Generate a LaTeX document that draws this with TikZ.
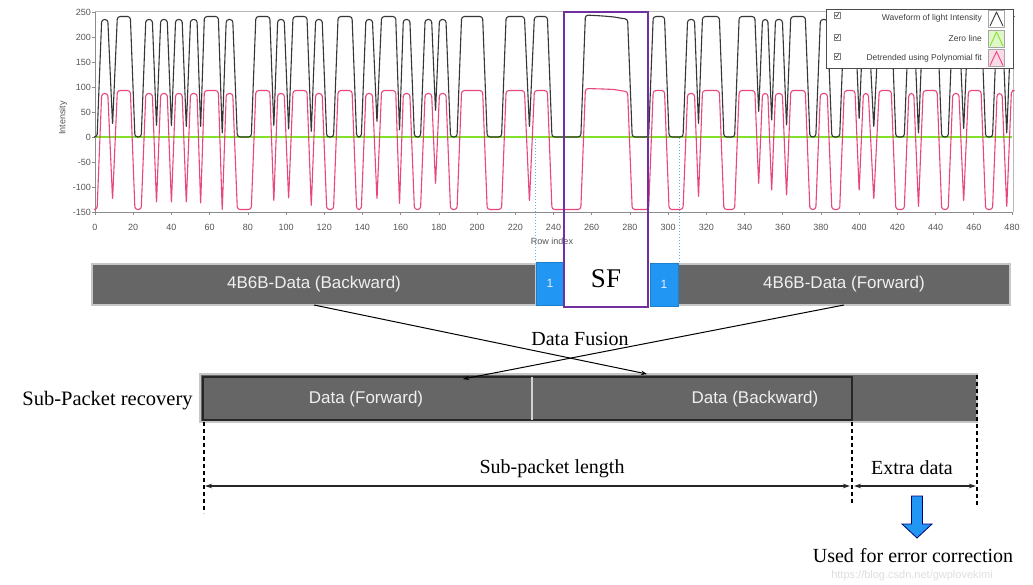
\documentclass[tikz,border=0pt]{standalone}
\usepackage{fontspec}
\setmainfont{Liberation Serif}
\setsansfont{Liberation Sans}
\usetikzlibrary{arrows.meta}
\definecolor{wblack}{RGB}{55,55,55}
\definecolor{wred}{RGB}{232,70,128}
\definecolor{wgreen}{RGB}{130,225,40}
\definecolor{barg}{RGB}{102,102,102}
\definecolor{barb}{RGB}{33,150,243}
\definecolor{sfp}{RGB}{112,48,160}
\definecolor{axg}{RGB}{140,140,140}
\definecolor{lblg}{RGB}{85,85,85}
\def\wavelist{1.1/0/-145, 3.5/235/87, 6.7/235/87, 9.2/24/-126,
11.7/241/93, 18.5/241/93, 20.9/0/-145, 24.2/0/-145,
26.6/235/87, 30.0/235/87, 32.2/20/-133,
34.4/235/87, 37.8/235/87, 40.0/20/-133,
42.2/235/87, 45.6/235/87, 47.8/18/-133,
50.0/235/87, 53.4/235/87, 55.3/18/-135,
57.25/241/93, 64.55/241/93, 66.6/5/-148,
68.7/235/87, 72.1/235/87, 74.5/0/-145, 81.8/0/-145,
84.2/241/93, 91.5/241/93, 93.6/20/-130,
95.65/235/87, 99.05/235/87, 101.35/13/-125,
103.65/241/93, 110.95/241/93, 113.2/8/-140,
115.5/235/87, 118.9/235/87, 121.3/0/-145, 124.85/0/-145,
127.25/241/93, 134.55/241/93, 136.95/0/-145, 139.4/0/-145,
141.8/235/87, 145.2/235/87, 147.6/28/-126,
150.0/241/93, 157.4/241/93, 159.4/11/-136,
161.4/235/87, 164.8/235/87, 167.2/0/-145, 170.4/0/-145,
172.8/235/87, 176.2/235/87, 178.25/50/-96,
180.3/235/87, 183.7/235/87, 186.1/0/-145, 189.5/0/-145,
191.9/241/93, 202.9/241/93, 205.3/0/-145, 212.8/0/-145,
215.2/241/93, 224.8/241/93, 227.4/18/-130,
230.0/241/93, 236.8/241/93, 239.2/0/-145, 254.3/0/-145,
256.7/244/97, 266/242/96, 272/240/95, 276/237/92, 278.8/236/91, 281.2/0/-145, 289.8/0/-145,
292.2/241/93, 298.1/241/93, 300.5/0/-145, 307.8/0/-145,
310.2/235/87, 313.8/235/87, 315.9/24/-122,
318.0/241/93, 326.8/241/93, 329.2/0/-145, 334.8/0/-145,
337.2/241/93, 345.4/241/93, 347.4/48/-96,
349.4/235/87, 352.2/235/87, 354.2/31/-109,
356.2/235/87, 359.8/235/87, 362/21/-119,
364.2/241/93, 371.8/241/93, 374.2/0/-145, 377.3/0/-145,
379.7/235/87, 383.3/235/87, 385.7/0/-145, 389.8/0/-145,
392.2/241/93, 397.8/241/93, 400/34/-109,
402.2/235/87, 404.8/235/87, 407.65/18/-126,
410.5/241/93, 416.8/241/93, 419.2/0/-145, 423.6/0/-145,
426.0/235/87, 428.6/235/87, 431.05/5/-142,
433.5/241/93, 440.8/241/93, 443.2/0/-145, 446.6/0/-145,
449.0/235/87, 452.2/235/87, 454.7/14/-130,
457.2/241/93, 463.8/241/93, 466.2/0/-145, 469.8/0/-145,
472.2/235/87, 474.8/235/87, 477.25/5/-142,
479.7/241/93, 480/241/93}
\begin{document}
\begin{tikzpicture}[x=1pt,y=-1pt,
  wave/.style={line width=1.1pt, rounded corners=2.8pt, line join=round},
  axlbl/.style={font=\sffamily\fontsize{9}{10}\selectfont, text=lblg, inner sep=0pt},
  lgtext/.style={anchor=east, font=\sffamily\fontsize{8.5}{10}\selectfont, text=black!75, inner sep=0pt},
  graybar/.style={fill=barg, draw=gray!45, line width=1.2pt, inner sep=0pt, outer sep=0pt, text=gray!12, font=\sffamily\fontsize{17}{20}\selectfont},
  bluebox/.style={fill=barb, draw=barb!85!black, line width=0.5pt, inner sep=0pt, outer sep=0pt, text=white!92!blue, font=\sffamily\fontsize{12}{14}\selectfont},
  lbl/.style={font=\fontsize{20}{23}\selectfont, inner sep=0pt},
  tip/.style={-{Stealth[length=6pt,width=4.5pt]}, line width=1pt},
  dimline/.style={{Stealth[length=7pt,width=4.5pt]}-{Stealth[length=7pt,width=4.5pt]}, line width=1.2pt, draw=black!85},
  vdash/.style={dash pattern=on 4pt off 3pt, line width=1.2pt},
  cbox/.style={draw=gray, minimum size=5.5pt, inner sep=0pt, line width=0.5pt},
  swatch/.style={draw=gray!70, minimum width=16pt, minimum height=17pt, inner sep=0pt, line width=0.6pt}
]
\useasboundingbox (0,0) rectangle (1033,584);
\fill[white] (0,0) rectangle (1033,584);

% plot frame
\draw[axg!60, line width=0.6pt] (95,11.5) -- (1013,11.5) -- (1013,212);
\draw[axg, line width=0.8pt] (95,11.5) -- (95,212) -- (1013,212);
\foreach \v in {250,200,150,100,50,0,-50,-100,-150}{
  \draw[axg, line width=0.6pt] (92,{137-0.5*\v}) -- (95,{137-0.5*\v});
  \node[axlbl, anchor=east] (yl\v) at (91,{137-0.5*\v}) {\v};
}
\foreach \i in {0,20,...,480}{
  \draw[axg, line width=0.6pt] ({95+1.9104*\i},212) -- ({95+1.9104*\i},215);
  \node[axlbl] (xl\i) at ({95+1.9104*\i},227) {\i};
}
\node[axlbl, rotate=90] (ylab) at (63,118) {Intensity};
\node[axlbl] (xlab) at (552,241) {Row index};

% waveforms
\begin{scope}[xshift=95pt, yshift=-137pt, x=1.9104pt, y=0.5pt]
  \draw[wgreen, line width=1.8pt] (0,0) -- (480,0);
  \draw[wave, wblack] (0,0) \foreach \x/\b/\r in \wavelist {-- (\x,\b)};
  \draw[wave, wred] (0,-145) \foreach \x/\b/\r in \wavelist {-- (\x,\r)};
\end{scope}

% legend
\node[draw=black!70, fill=white, line width=0.8pt, minimum width=187pt, minimum height=59pt, inner sep=0pt] (legend) at (919.5,38.7) {};
\node[lgtext] (lg1) at (982,18.5) {Waveform of light Intensity};
\node[lgtext] (lg2) at (982,38.5) {Zero line};
\node[lgtext] (lg3) at (982,58) {Detrended using Polynomial fit};
\foreach \y/\n in {15/1,37/2,56/3}{
  \node[cbox] (cb\n) at (837,\y) {};
  \draw[line width=0.6pt, black!80] (835.3,\y) -- (836.6,\y+1.6) -- (838.8,\y-1.7);
}
\node[swatch, fill=white] (sw1) at (996.5,18.5) {};
\node[swatch, fill=wgreen!25] (sw2) at (996.5,38.5) {};
\node[swatch, fill=wred!20] (sw3) at (996.5,58) {};
\draw[wblack, line width=0.9pt, line join=round] (990,26) -- (996.5,12) -- (1003,26);
\draw[wgreen, line width=0.9pt, line join=round] (990,46) -- (996.5,32) -- (1003,46);
\draw[wred, line width=0.9pt, line join=round] (990,65.5) -- (996.5,51.5) -- (1003,65.5);

% upper packet bar
\node[graybar, minimum width=444pt, minimum height=41pt] (bwd) at (314,284.5) {4B6B-Data (Backward)};
\node[graybar, minimum width=332pt, minimum height=41pt] (fwd) at (844,284.5) {4B6B-Data (Forward)};
\node[bluebox, minimum width=28pt, minimum height=43pt] (one1) at (550,283.5) {1};
\node[bluebox, minimum width=28pt, minimum height=43pt] (one2) at (664,284.5) {1};

% dotted markers
\coordinate (bd1t) at (535,139);
\coordinate (bd1b) at (535,262);
\coordinate (bd2t) at (679,138);
\coordinate (bd2b) at (679,263);
\draw[barb!75, dotted, line width=1pt] (bd1t) -- (bd1b);
\draw[barb!75, dotted, line width=1pt] (bd2t) -- (bd2b);

% SF box
\node[draw=sfp, line width=2pt, minimum width=84pt, minimum height=295pt, inner sep=0pt] (sfbox) at (606,159.2) {};
\node[font=\fontsize{27}{30}\selectfont, inner sep=0pt] (sf) at (606,279) {SF};

% lower bar
\node[fill=barg, draw=gray!45, line width=1.2pt, minimum width=777pt, minimum height=48pt, inner sep=0pt] (subbar) at (588.5,398) {};
\node[draw=black!85, line width=1.5pt, minimum width=649pt, minimum height=43pt, inner sep=0pt] (datarect) at (527.5,398.5) {};
\draw[gray!35, line width=1.5pt] (532,377) -- (532,420);
\node[text=gray!12, font=\sffamily\fontsize{17}{20}\selectfont, inner sep=0pt] (dfw) at (366,399) {Data (Forward)};
\node[text=gray!12, font=\sffamily\fontsize{17}{20}\selectfont, inner sep=0pt] (dbw) at (755,399) {Data (Backward)};
\node[font=\fontsize{20.5}{23}\selectfont, inner sep=0pt] (spr) at (107.5,401) {Sub-Packet recovery};

% data fusion arrows
\coordinate (tipA) at (647,374);
\coordinate (tipB) at (463,379);
\draw[tip] (bwd.south) -- (tipA);
\draw[tip] (fwd.south) -- (tipB);
\node[lbl] (fusion) at (580,339) {Data Fusion};

% dashed guides
\coordinate (dL1) at (204,422); \coordinate (dL2) at (204,513);
\coordinate (dM1) at (852,422); \coordinate (dM2) at (852,505);
\coordinate (dR1) at (977,375); \coordinate (dR2) at (977,505);
\draw[vdash] (dL1) -- (dL2);
\draw[vdash] (dM1) -- (dM2);
\draw[vdash] (dR1) -- (dR2);

% dimension arrows
\coordinate (aL) at (205,486); \coordinate (aM1) at (850,486);
\coordinate (aM2) at (854,486); \coordinate (aR) at (976,486);
\draw[dimline] (aL) -- (aM1);
\draw[dimline] (aM2) -- (aR);
\node[lbl] (splen) at (552,469) {Sub-packet length};
\node[lbl] (extra) at (912,468) {Extra data};

% block arrow and note
\node[font=\sffamily\fontsize{11}{12}\selectfont, text=gray!25, inner sep=0pt] (wm) at (912,576) {https://blog.csdn.net/gwplovekimi};
\draw[fill=barb, draw=blue!45!black, line width=0.8pt, line join=miter]
  (911.5,496) -- (922.5,496) -- (922.5,524) -- (932,524) -- (917,538) -- (902,524) -- (911.5,524) -- cycle;
\node[lbl] (used) at (913,556) {Used\hspace{6pt}for error correction};
\end{tikzpicture}
\end{document}
